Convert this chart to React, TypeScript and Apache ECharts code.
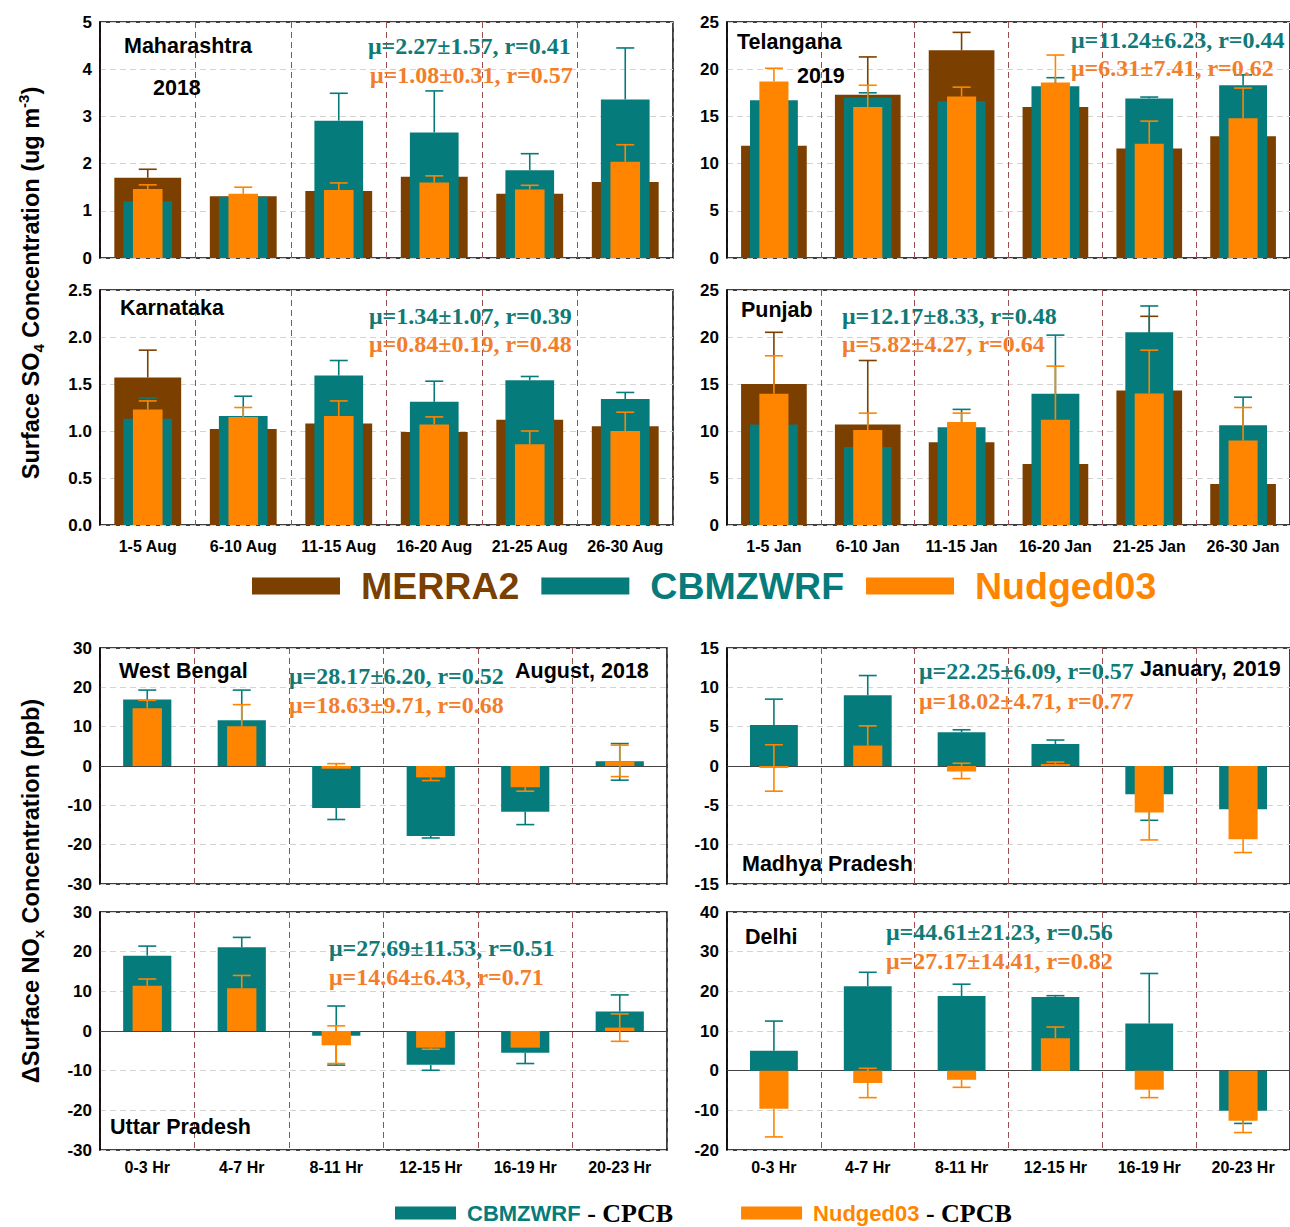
import React, { useEffect, useRef } from "react";
import * as echarts from "echarts";

// ---------- categories ----------
const augCats = ["1-5 Aug", "6-10 Aug", "11-15 Aug", "16-20 Aug", "21-25 Aug", "26-30 Aug"];
const janCats = ["1-5 Jan", "6-10 Jan", "11-15 Jan", "16-20 Jan", "21-25 Jan", "26-30 Jan"];
const hrCats = ["0-3 Hr", "4-7 Hr", "8-11 Hr", "12-15 Hr", "16-19 Hr", "20-23 Hr"];

// ---------- SO4: Maharashtra ----------
const maharashtraMERRA2 = [1.70, 1.31, 1.42, 1.72, 1.36, 1.61];
const maharashtraMERRA2Err = [1.88, null, null, null, null, null];
const maharashtraCBMZ = [1.20, 1.30, 2.91, 2.66, 1.86, 3.36];
const maharashtraCBMZErr = [null, null, 3.49, 3.54, 2.21, 4.45];
const maharashtraNudged = [1.46, 1.36, 1.44, 1.60, 1.45, 2.04];
const maharashtraNudgedErr = [1.55, 1.50, 1.59, 1.74, 1.54, 2.40];

// ---------- SO4: Telangana ----------
const telanganaMERRA2 = [11.9, 17.3, 22.0, 16.0, 11.6, 12.9];
const telanganaMERRA2Err = [null, 21.3, 23.9, null, null, null];
const telanganaCBMZ = [16.7, 17.0, 16.6, 18.2, 16.9, 18.3];
const telanganaCBMZErr = [null, 17.5, null, 19.1, 17.05, 19.4];
const telanganaNudged = [18.7, 16.0, 17.1, 18.6, 12.1, 14.8];
const telanganaNudgedErr = [20.1, 18.3, 18.1, 21.5, 14.5, 18.0];

// ---------- SO4: Karnataka ----------
const karnatakaMERRA2 = [1.57, 1.02, 1.08, 0.99, 1.12, 1.05];
const karnatakaMERRA2Err = [1.86, null, null, null, null, null];
const karnatakaCBMZ = [1.13, 1.16, 1.59, 1.31, 1.54, 1.34];
const karnatakaCBMZErr = [1.35, 1.37, 1.75, 1.53, 1.58, 1.41];
const karnatakaNudged = [1.23, 1.15, 1.16, 1.07, 0.86, 1.00];
const karnatakaNudgedErr = [1.32, 1.25, 1.32, 1.15, 1.00, 1.20];

// ---------- SO4: Punjab ----------
const punjabMERRA2 = [15.0, 10.7, 8.8, 6.5, 14.3, 4.35];
const punjabMERRA2Err = [20.5, 17.5, null, null, 22.2, null];
const punjabCBMZ = [10.7, 8.3, 10.4, 13.95, 20.5, 10.6];
const punjabCBMZErr = [null, null, 12.3, 20.2, 23.3, 13.6];
const punjabNudged = [13.95, 10.1, 10.95, 11.2, 14.0, 9.0];
const punjabNudgedErr = [18.0, 11.9, 11.9, 16.9, 18.6, 12.5];

// ---------- NOx: West Bengal ----------
const westBengalCBMZ = [16.9, 11.6, -10.7, -17.8, -11.6, 1.2];
const westBengalCBMZErr = [19.3, 19.3, -13.6, -18.3, -14.9, 5.7];
const westBengalCBMZErr2 = [null, null, null, null, null, -3.6];
const westBengalNudged = [14.7, 10.1, -0.7, -2.9, -5.4, 1.2];
const westBengalNudgedErr = [16.7, 15.6, 0.6, -3.7, -6.4, 5.3];
const westBengalNudgedErr2 = [null, null, null, null, null, -2.7];

// ---------- NOx: Madhya Pradesh ----------
const madhyaCBMZ = [5.2, 9.0, 4.3, 2.8, -3.6, -5.5];
const madhyaCBMZErr = [8.5, 11.5, 4.6, 3.3, -6.9, null];
const madhyaNudged = [-0.25, 2.6, -0.7, 0.25, -5.9, -9.3];
const madhyaNudgedErr = [2.7, 5.1, -1.6, 0.5, -9.4, -11.0];
const madhyaNudgedErr2 = [-3.2, null, 0.35, null, null, null];

// ---------- NOx: Uttar Pradesh ----------
const uttarCBMZ = [19.0, 21.1, -1.2, -8.5, -5.5, 4.9];
const uttarCBMZErr = [21.4, 23.6, 6.3, -9.9, -8.2, 9.1];
const uttarCBMZErr2 = [null, null, -8.6, null, null, null];
const uttarNudged = [11.4, 10.8, -3.6, -4.2, -4.2, 0.85];
const uttarNudgedErr = [13.1, 14.0, 1.3, -4.6, null, 4.3];
const uttarNudgedErr2 = [null, null, -8.2, null, null, -2.6];

// ---------- NOx: Delhi ----------
const delhiCBMZ = [5.0, 21.3, 18.8, 18.6, 11.9, -10.1];
const delhiCBMZErr = [12.5, 24.8, 21.8, 18.9, 24.5, -13.3];
const delhiNudged = [-9.6, -3.1, -2.3, 8.2, -4.8, -12.6];
const delhiNudgedErr = [-16.7, -6.8, -4.2, 11.0, -6.8, -15.6];
const delhiNudgedErr2 = [null, 0.6, null, null, null, null];

// ---------- styling ----------
const BROWN = "#7B3F00";
const TEAL = "#067B7B";
const ORANGE = "#FF8500";
const STAT_TEAL = "#0F7A76";
const STAT_ORANGE = "#F27E2C";
const SANS = "'Liberation Sans', Arial, sans-serif";
const SERIF = "'Liberation Serif', 'Times New Roman', serif";

type Ser = { name: string; color: string; width: string; values: number[]; errA: (number | null)[]; errB?: (number | null)[] };
type Panel = {
  cats: string[]; left: number; top: number; width: number; height: number;
  yMin: number; yMax: number; yInt: number; decimals: number; showX: boolean; zero: boolean; series: Ser[];
};

const M = (v: number[], e: (number | null)[]): Ser => ({ name: "MERRA2", color: BROWN, width: "70%", values: v, errA: e });
const C = (v: number[], e: (number | null)[], e2?: (number | null)[]): Ser => ({ name: "CBMZWRF", color: TEAL, width: "51%", values: v, errA: e, errB: e2 });
const N = (v: number[], e: (number | null)[], e2?: (number | null)[]): Ser => ({ name: "Nudged03", color: ORANGE, width: "31%", values: v, errA: e, errB: e2 });

const panels: Panel[] = [
  { cats: augCats, left: 100, top: 22, width: 573, height: 236, yMin: 0, yMax: 5, yInt: 1, decimals: 0, showX: false, zero: false,
    series: [M(maharashtraMERRA2, maharashtraMERRA2Err), C(maharashtraCBMZ, maharashtraCBMZErr), N(maharashtraNudged, maharashtraNudgedErr)] },
  { cats: janCats, left: 727, top: 22, width: 573, height: 236, yMin: 0, yMax: 25, yInt: 5, decimals: 0, showX: false, zero: false,
    series: [M(telanganaMERRA2, telanganaMERRA2Err), C(telanganaCBMZ, telanganaCBMZErr), N(telanganaNudged, telanganaNudgedErr)] },
  { cats: augCats, left: 100, top: 290, width: 573, height: 235, yMin: 0, yMax: 2.5, yInt: 0.5, decimals: 1, showX: true, zero: false,
    series: [M(karnatakaMERRA2, karnatakaMERRA2Err), C(karnatakaCBMZ, karnatakaCBMZErr), N(karnatakaNudged, karnatakaNudgedErr)] },
  { cats: janCats, left: 727, top: 290, width: 573, height: 235, yMin: 0, yMax: 25, yInt: 5, decimals: 0, showX: true, zero: false,
    series: [M(punjabMERRA2, punjabMERRA2Err), C(punjabCBMZ, punjabCBMZErr), N(punjabNudged, punjabNudgedErr)] },
  { cats: hrCats, left: 100, top: 648, width: 567, height: 236, yMin: -30, yMax: 30, yInt: 10, decimals: 0, showX: false, zero: true,
    series: [C(westBengalCBMZ, westBengalCBMZErr, westBengalCBMZErr2), N(westBengalNudged, westBengalNudgedErr, westBengalNudgedErr2)] },
  { cats: hrCats, left: 727, top: 648, width: 573, height: 236, yMin: -15, yMax: 15, yInt: 5, decimals: 0, showX: false, zero: true,
    series: [C(madhyaCBMZ, madhyaCBMZErr), N(madhyaNudged, madhyaNudgedErr, madhyaNudgedErr2)] },
  { cats: hrCats, left: 100, top: 912, width: 567, height: 238, yMin: -30, yMax: 30, yInt: 10, decimals: 0, showX: true, zero: true,
    series: [C(uttarCBMZ, uttarCBMZErr, uttarCBMZErr2), N(uttarNudged, uttarNudgedErr, uttarNudgedErr2)] },
  { cats: hrCats, left: 727, top: 912, width: 573, height: 238, yMin: -20, yMax: 40, yInt: 10, decimals: 0, showX: true, zero: true,
    series: [C(delhiCBMZ, delhiCBMZErr), N(delhiNudged, delhiNudgedErr, delhiNudgedErr2)] },
];

type Ann = { text: string; x: number; y: number; kind: "label" | "teal" | "orange" };
const annotations: Ann[] = [
  { text: "Maharashtra", x: 124, y: 46, kind: "label" },
  { text: "2018", x: 153, y: 88, kind: "label" },
  { text: "μ=2.27±1.57, r=0.41", x: 368, y: 46, kind: "teal" },
  { text: "μ=1.08±0.31, r=0.57", x: 370, y: 75, kind: "orange" },
  { text: "Telangana", x: 737, y: 42, kind: "label" },
  { text: "2019", x: 797, y: 76, kind: "label" },
  { text: "μ=11.24±6.23, r=0.44", x: 1071, y: 40, kind: "teal" },
  { text: "μ=6.31±7.41, r=0.62", x: 1071, y: 68, kind: "orange" },
  { text: "Karnataka", x: 120, y: 308, kind: "label" },
  { text: "μ=1.34±1.07, r=0.39", x: 369, y: 316, kind: "teal" },
  { text: "μ=0.84±0.19, r=0.48", x: 369, y: 344, kind: "orange" },
  { text: "Punjab", x: 741, y: 310, kind: "label" },
  { text: "μ=12.17±8.33, r=0.48", x: 842, y: 316, kind: "teal" },
  { text: "μ=5.82±4.27, r=0.64", x: 842, y: 344, kind: "orange" },
  { text: "West Bengal", x: 119, y: 671, kind: "label" },
  { text: "μ=28.17±6.20, r=0.52", x: 289, y: 676, kind: "teal" },
  { text: "μ=18.63±9.71, r=0.68", x: 289, y: 705, kind: "orange" },
  { text: "August, 2018", x: 515, y: 671, kind: "label" },
  { text: "μ=22.25±6.09, r=0.57", x: 919, y: 671, kind: "teal" },
  { text: "January, 2019", x: 1140, y: 669, kind: "label" },
  { text: "μ=18.02±4.71, r=0.77", x: 919, y: 701, kind: "orange" },
  { text: "Madhya Pradesh", x: 742, y: 864, kind: "label" },
  { text: "μ=27.69±11.53, r=0.51", x: 329, y: 948, kind: "teal" },
  { text: "μ=14.64±6.43, r=0.71", x: 329, y: 977, kind: "orange" },
  { text: "Uttar Pradesh", x: 110, y: 1127, kind: "label" },
  { text: "Delhi", x: 745, y: 937, kind: "label" },
  { text: "μ=44.61±21.23, r=0.56", x: 886, y: 932, kind: "teal" },
  { text: "μ=27.17±14.41, r=0.82", x: 886, y: 961, kind: "orange" },
];

function buildOption() {
  const grid: any[] = [];
  const xAxis: any[] = [];
  const yAxis: any[] = [];
  const series: any[] = [];

  panels.forEach((p, gi) => {
    grid.push({ left: p.left, top: p.top, width: p.width, height: p.height, show: true, borderColor: "#000", borderWidth: 1.5, backgroundColor: "transparent", containLabel: false });
    yAxis.push({
      type: "value", gridIndex: gi, min: p.yMin, max: p.yMax, interval: p.yInt,
      axisLine: { show: true, lineStyle: { color: "#000", width: 1.5 } },
      axisTick: { show: false },
      axisLabel: { color: "#000", fontSize: 17, fontWeight: "bold", fontFamily: SANS, margin: 8,
        formatter: (v: number) => v.toFixed(p.decimals) },
      splitLine: { show: true, lineStyle: { type: [6, 4], color: "#d4d4d4", width: 1 } },
    });
    const yIdx = yAxis.length - 1;
    p.series.forEach((s, si) => {
      const visible = si === 0;
      xAxis.push({
        type: "category", gridIndex: gi, data: p.cats, position: "bottom", show: visible, boundaryGap: true,
        axisLine: { show: false, onZero: false }, axisTick: { show: false },
        axisLabel: { show: p.showX, interval: 0, color: "#000", fontSize: 16, fontWeight: "bold", fontFamily: SANS, margin: p.zero ? 9 : 13 },
        splitLine: { show: true, interval: 0, lineStyle: { type: [6, 4], color: "#9c4f52", width: 1 } },
      });
      const xIdx = xAxis.length - 1;
      const bar: any = {
        type: "bar", name: s.name, xAxisIndex: xIdx, yAxisIndex: yIdx, data: s.values, barWidth: s.width,
        itemStyle: { color: s.color }, z: 2 + si * 2, silent: true,
      };
      if (visible && p.zero) {
        bar.markLine = { silent: true, symbol: "none", label: { show: false }, z: 1,
          lineStyle: { color: "#444", width: 1, type: "solid" }, data: [{ yAxis: 0 }] };
      }
      series.push(bar);
      const errData = s.values.map((v, i) => {
        const a = s.errA[i];
        const b = s.errB ? s.errB[i] : null;
        return [i, v, a == null ? v : a, b == null ? v : b];
      });
      const color = s.color;
      series.push({
        type: "custom", name: s.name + " error", xAxisIndex: xIdx, yAxisIndex: yIdx, z: 3 + si * 2, silent: true,
        data: errData, encode: { x: 0, y: [1, 2, 3] },
        renderItem: (params: any, api: any) => {
          const x = api.value(0);
          const v = api.value(1);
          const ends = [api.value(2), api.value(3)];
          const p0 = api.coord([x, v]);
          const children: any[] = [];
          ends.forEach((e: number) => {
            if (e == null || isNaN(e) || e === v) return;
            const pe = api.coord([x, e]);
            children.push({ type: "line", shape: { x1: p0[0], y1: p0[1], x2: pe[0], y2: pe[1] }, style: { stroke: color, lineWidth: 1.6 } });
            children.push({ type: "line", shape: { x1: pe[0] - 9, y1: pe[1], x2: pe[0] + 9, y2: pe[1] }, style: { stroke: color, lineWidth: 1.6 } });
          });
          return { type: "group", children };
        },
      });
    });
  });

  const graphic: any[] = annotations.map((a) => {
    const isLabel = a.kind === "label";
    const fill = a.kind === "teal" ? STAT_TEAL : a.kind === "orange" ? STAT_ORANGE : "#000";
    const font = isLabel ? `bold 21.5px ${SANS}` : `bold 24px ${SERIF}`;
    return { type: "text", x: a.x, y: a.y, z: 50, silent: true,
      style: { text: a.text, fill, font, align: "left", verticalAlign: "middle", textAlign: "left", textVerticalAlign: "middle" } };
  });

  const titleRich = {
    a: { fontSize: 23.5, fontWeight: "bold", fontFamily: SANS, color: "#000", lineHeight: 30 },
    s: { fontSize: 15, fontWeight: "bold", fontFamily: SANS, color: "#000", lineHeight: 15, verticalAlign: "bottom" },
    p: { fontSize: 15, fontWeight: "bold", fontFamily: SANS, color: "#000", lineHeight: 15, verticalAlign: "top" },
  };
  graphic.push({ type: "text", x: 31, y: 283, rotation: Math.PI / 2, z: 50, silent: true,
    style: { text: "{a|Surface SO}{s|4}{a| Concentration (ug m}{p|-3}{a|)}", rich: titleRich,
      align: "center", verticalAlign: "middle", textAlign: "center", textVerticalAlign: "middle" } });
  graphic.push({ type: "text", x: 31, y: 891, rotation: Math.PI / 2, z: 50, silent: true,
    style: { text: "{a|ΔSurface NO}{s|x}{a| Concentration (ppb)}", rich: titleRich,
      align: "center", verticalAlign: "middle", textAlign: "center", textVerticalAlign: "middle" } });

  const legend = [
    {
      data: [
        { name: "MERRA2", textStyle: { color: BROWN } },
        { name: "CBMZWRF", textStyle: { color: TEAL } },
        { name: "Nudged03", textStyle: { color: ORANGE } },
      ],
      left: 252, top: 567, padding: 0, itemWidth: 88, itemHeight: 17, itemGap: 22, icon: "rect", selectedMode: false,
      textStyle: { fontSize: 37.5, fontWeight: "bold", fontFamily: SANS, padding: [0, 0, 0, 16] },
    },
    {
      data: ["CBMZWRF", "Nudged03"],
      left: 395, top: 1200, padding: 0, itemWidth: 61, itemHeight: 13, itemGap: 68, icon: "rect", selectedMode: false,
      formatter: (name: string) => (name === "CBMZWRF" ? "{t|CBMZWRF}{c| - CPCB}" : "{o|Nudged03}{c| - CPCB}"),
      textStyle: {
        padding: [0, 0, 0, 6],
        lineHeight: 26,
        rich: {
          t: { color: TEAL, fontSize: 22, fontWeight: "bold", fontFamily: SANS, lineHeight: 26 },
          o: { color: ORANGE, fontSize: 22, fontWeight: "bold", fontFamily: SANS, lineHeight: 26 },
          c: { color: "#000", fontSize: 26, fontWeight: "bold", fontFamily: SERIF, lineHeight: 26 },
        },
      },
    },
  ];

  return { animation: false, backgroundColor: "#fff", grid, xAxis, yAxis, series, graphic, legend };
}

export default function App() {
  const ref = useRef<HTMLDivElement>(null);
  useEffect(() => {
    if (!ref.current) return;
    const chart = echarts.init(ref.current, undefined, { renderer: "svg" });
    chart.setOption(buildOption() as any);
    return () => chart.dispose();
  }, []);
  return <div ref={ref} style={{ position: "absolute", left: 0, top: 0, width: 1290, height: 1227 }} />;
}
